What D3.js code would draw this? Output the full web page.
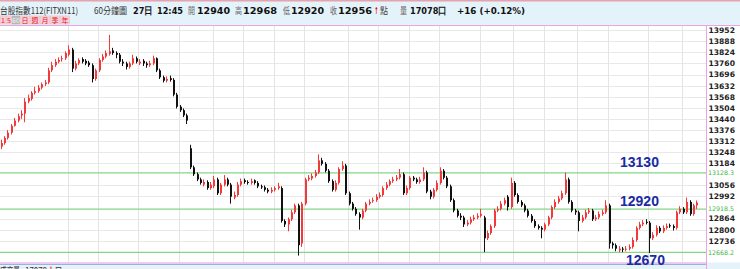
<!DOCTYPE html>
<html>
<head>
<meta charset="utf-8">
<script src="https://d3js.org/d3.v7.min.js"></script>
<style>
  body { margin: 0; background: #e4f2fa; overflow: hidden; }
  svg { display: block; }
</style>
</head>
<body>
<svg id="graph"></svg>
<script>

// Bougies 60 minutes (ouverture, haut, bas, clôture)
const ouvertures = [
  13280,13300,13330,13360,13400,13430,13460,13470,13540,13555,
  13590,13600,13620,13640,13650,13720,13750,13770,13785,13790,
  13810,13840,13730,13760,13785,13775,13765,13750,13670,13720,
  13780,13800,13815,13835,13820,13810,13770,13760,13740,13760,
  13790,13760,13775,13760,13750,13760,13790,13720,13680,13660,
  13675,13665,13580,13510,13490,13460,13270,13160,13120,13090,
  13060,13075,13040,13050,13090,13010,13060,13090,13060,12985,
  13000,13060,13085,13075,13070,13085,13070,13050,13045,13030,
  13020,13030,13040,13040,12850,12830,12860,12900,12940,12720,
  12950,13090,13095,13110,13130,13200,13180,13140,13080,13030,
  13070,13150,13170,13010,12950,12920,12890,12870,12910,12950,
  12965,12970,12990,13000,13040,13060,13080,13090,13100,13120,
  13010,13040,13100,13090,13075,13090,13130,13020,12990,13030,
  13070,13140,13100,13050,12970,12910,12880,12870,12830,12840,
  12860,12870,12880,12870,12750,12780,12820,12910,12920,12950,
  12990,12930,13070,13000,12960,12940,12910,12880,12850,12820,
  12810,12800,12830,12870,12930,12960,12980,13010,13090,12960,
  12910,12900,12850,12870,12900,12910,12860,12870,12890,12900,
  12940,12720,12710,12680,12690,12685,12690,12700,12740,12810,
  12830,12845,12840,12750,12770,12810,12790,12810,12825,12820,
  12810,12900,12920,12900,12960,12890,12940
];
const hauts = [
  13320,13340,13375,13410,13445,13470,13490,13560,13580,13600,
  13625,13635,13650,13665,13735,13770,13785,13795,13805,13830,
  13865,13850,13775,13790,13795,13785,13775,13760,13730,13790,
  13815,13835,13925,13850,13830,13820,13785,13770,13770,13810,
  13800,13785,13785,13770,13775,13805,13795,13730,13690,13685,
  13690,13675,13590,13520,13500,13470,13290,13170,13130,13100,
  13090,13085,13075,13110,13100,13070,13115,13100,13070,13020,
  13075,13095,13095,13085,13095,13090,13080,13060,13055,13040,
  13045,13050,13070,13050,12860,12870,12915,12950,12950,12960,
  13100,13115,13125,13145,13235,13215,13190,13150,13090,13085,
  13160,13195,13180,13020,12960,12930,12900,12920,12960,12975,
  12985,13005,13015,13050,13075,13090,13105,13115,13150,13130,
  13055,13110,13110,13100,13105,13160,13140,13030,13040,13085,
  13160,13150,13110,13060,12980,12920,12895,12880,12855,12875,
  12885,12895,12920,12880,12795,12830,12920,12935,12965,12985,
  13000,13100,13080,13010,12970,12950,12920,12890,12860,12830,
  12820,12840,12880,12940,12975,12995,13025,13130,13100,12970,
  12920,12910,12885,12915,12925,12920,12885,12905,12915,12970,
  12950,12730,12720,12705,12700,12705,12715,12755,12820,12845,
  12855,12860,12850,12785,12825,12820,12825,12835,12835,12830,
  12910,12935,12930,12985,12970,12950,12968
];
const bas = [
  13265,13290,13320,13350,13395,13420,13440,13420,13530,13545,
  13580,13590,13610,13630,13640,13710,13740,13760,13770,13780,
  13800,13710,13720,13750,13760,13750,13740,13650,13660,13710,
  13770,13790,13805,13810,13790,13760,13745,13725,13730,13750,
  13760,13750,13745,13735,13740,13750,13710,13670,13650,13650,
  13655,13570,13500,13480,13450,13410,13150,13110,13080,13060,
  13050,13030,13030,13040,13000,13000,13050,13050,12950,12975,
  12990,13050,13065,13060,13060,13060,13040,13035,13020,13010,
  13010,13020,13030,12840,12815,12790,12850,12890,12650,12700,
  12940,13080,13085,13100,13120,13170,13130,13070,13020,13020,
  13060,13140,13000,12940,12910,12880,12800,12860,12900,12940,
  12955,12960,12980,12990,13030,13050,13070,13080,13090,13000,
  13000,13030,13080,13065,13065,13080,13010,12975,12980,13020,
  13060,13090,13040,12960,12900,12870,12855,12815,12820,12830,
  12850,12860,12870,12670,12740,12770,12810,12900,12910,12940,
  12910,12920,12990,12950,12930,12900,12870,12840,12810,12800,
  12750,12790,12820,12860,12920,12950,12970,13000,12950,12900,
  12885,12790,12840,12860,12890,12850,12850,12860,12880,12890,
  12690,12690,12675,12670,12670,12675,12680,12690,12730,12800,
  12820,12830,12665,12740,12760,12780,12780,12800,12810,12795,
  12800,12890,12890,12890,12880,12880,12920
];
const clotures = [
  13300,13330,13360,13400,13430,13455,13470,13540,13560,13590,
  13600,13620,13640,13650,13720,13750,13770,13780,13790,13820,
  13840,13730,13760,13780,13770,13760,13750,13670,13720,13780,
  13800,13820,13830,13820,13810,13770,13760,13740,13760,13790,
  13770,13770,13760,13750,13760,13790,13720,13680,13660,13670,
  13665,13580,13510,13490,13460,13430,13160,13120,13090,13070,
  13075,13040,13060,13090,13010,13060,13090,13060,12990,13000,
  13060,13080,13075,13070,13080,13070,13050,13045,13030,13020,
  13030,13040,13050,12850,12830,12860,12900,12940,12710,12950,
  13090,13100,13110,13130,13200,13180,13140,13080,13030,13070,
  13150,13170,13010,12950,12920,12890,12870,12910,12950,12960,
  12970,12990,13000,13040,13060,13080,13090,13100,13120,13010,
  13040,13100,13090,13075,13090,13130,13020,12990,13030,13070,
  13140,13100,13050,12970,12910,12880,12870,12830,12840,12860,
  12870,12880,12890,12750,12780,12820,12910,12920,12950,12970,
  12930,13070,13000,12960,12940,12910,12880,12850,12820,12810,
  12800,12830,12870,12930,12960,12980,13010,13090,12960,12910,
  12900,12850,12870,12900,12910,12860,12870,12890,12900,12940,
  12720,12710,12690,12690,12685,12690,12700,12740,12810,12830,
  12840,12840,12750,12770,12810,12790,12810,12820,12820,12810,
  12900,12920,12900,12960,12890,12940,12956
];

// Graduations de l'axe de droite
const graduations = [13952,13888,13824,13760,13696,13632,13568,13504,13440,13376,
  13312,13248,13184,13056,12992,12864,12800,12736];

// Niveaux (lignes vertes) et textes bleus
const niveaux = [13128.3, 12918.5, 12668.2];
const niveauxTexte = ["13130", "12920", "12670"];

// Séparations verticales (indice de bougie)
const separations = [20, 29, 41, 53, 63, 72, 81, 90, 103, 112, 121, 130, 142, 152, 161, 171, 180, 192, 202];

// En-tête
const entete = [
  { t: "台股指數112(FITXN11)", x: 0, w: 78, b: false, c: "#333" },
  { t: "60分鐘圖", x: 94, w: 33, b: false, c: "#333" },
  { t: "27日", x: 133, w: 20, b: true, c: "#111" },
  { t: "12:45", x: 157, w: 26, b: true, c: "#111" },
  { t: "開", x: 188, w: 7, b: false, c: "#666" },
  { t: "12940", x: 197, w: 33, b: true, c: "#111" },
  { t: "高", x: 235, w: 7, b: false, c: "#666" },
  { t: "12968", x: 243, w: 34, b: true, c: "#111" },
  { t: "低", x: 283, w: 7, b: false, c: "#666" },
  { t: "12920", x: 291, w: 33, b: true, c: "#111" },
  { t: "收", x: 330, w: 7, b: false, c: "#666" },
  { t: "12956", x: 338, w: 34, b: true, c: "#111" },
  { t: "↑", x: 374.5, w: 4, b: true, c: "#e00" },
  { t: "點", x: 380, w: 8, b: false, c: "#444" },
  { t: "量", x: 400, w: 7, b: false, c: "#666" },
  { t: "17078口", x: 410, w: 37, b: true, c: "#111" },
  { t: "+16 (+0.12%)", x: 457, w: 68, b: true, c: "#111" }
];
const boutons = ["1", "5", "60", "日", "週", "月", "季", "年"];

const largeur = 740, hauteur = 269;
const plotDroite = 706, plotHaut = 26, plotBas = 262.5;
const N = clotures.length;

const svg = d3.select('#graph')
  .attr("width", largeur)
  .attr("height", hauteur);

// fonds
svg.append("rect").attr("width", largeur).attr("height", hauteur).attr("fill", "#e4f2fa");
svg.append("rect").attr("width", largeur).attr("height", 1.5).attr("fill", "#e6a2ae");
svg.append("rect").attr("x", 0).attr("y", plotHaut).attr("width", largeur).attr("height", plotBas - plotHaut)
  .attr("fill", "#ffffff");

const x = d3.scaleLinear().domain([-0.5, N - 0.5]).range([0, 699]);
const y = d3.scaleLinear().domain([12736, 13952]).range([240.7, 30.2]);

// grille horizontale
svg.append("g")
  .call(d3.axisLeft(y).tickValues(graduations).tickSize(-plotDroite).tickFormat(""))
  .call(g => g.select(".domain").remove())
  .call(g => g.selectAll("line").attr("stroke", "#e8e8e8").attr("shape-rendering", "crispEdges"));

// grille verticale
svg.append("g").selectAll("line")
  .data(separations)
  .enter().append("line")
  .attr("x1", d => Math.round(x(d - 0.5)) + 0.5)
  .attr("x2", d => Math.round(x(d - 0.5)) + 0.5)
  .attr("y1", plotHaut)
  .attr("y2", plotBas)
  .attr("stroke", "#e4e4e4");

// lignes vertes
svg.append("g").selectAll("line")
  .data(niveaux)
  .enter().append("line")
  .attr("x1", 0)
  .attr("x2", plotDroite)
  .attr("y1", d => y(d))
  .attr("y2", d => y(d))
  .attr("stroke", "#86d686")
  .attr("stroke-width", 1.3);

// bougies
const bougies = svg.append("g");
d3.range(N).forEach(i => {
  const o = ouvertures[i], c = clotures[i];
  const couleur = c >= o ? "#f23a3a" : "#111";
  const cx = Math.round(x(i));
  bougies.append("line")
    .attr("x1", cx - 0.5).attr("x2", cx - 0.5)
    .attr("y1", y(hauts[i])).attr("y2", y(bas[i]))
    .attr("stroke", couleur).attr("stroke-width", 1);
  const y1 = y(Math.max(o, c)), y2 = y(Math.min(o, c));
  bougies.append("rect")
    .attr("x", cx - 1)
    .attr("y", y1)
    .attr("width", 2)
    .attr("height", Math.max(1, y2 - y1))
    .attr("fill", couleur);
});

// cadre
svg.append("line").attr("x1", 0).attr("x2", largeur).attr("y1", plotHaut - 0.5).attr("y2", plotHaut - 0.5)
  .attr("stroke", "#e8a4e4");
svg.append("line").attr("x1", plotDroite + 0.5).attr("x2", plotDroite + 0.5).attr("y1", plotHaut).attr("y2", hauteur)
  .attr("stroke", "#e8a4e4");
svg.append("line").attr("x1", 0).attr("x2", plotDroite).attr("y1", plotBas + 0.5).attr("y2", plotBas + 0.5)
  .attr("stroke", "#e8a4e4").attr("stroke-width", 1.2);
svg.append("line").attr("x1", 0).attr("x2", plotDroite).attr("y1", plotBas + 2).attr("y2", plotBas + 2)
  .attr("stroke", "#a6acdf").attr("stroke-width", 1.2);

// axe de droite
svg.append("g")
  .attr("transform", `translate(${plotDroite + 1},0)`)
  .call(d3.axisRight(y).tickValues(graduations).tickSize(0).tickPadding(1.5).tickFormat(d3.format("d")))
  .call(g => g.select(".domain").remove())
  .call(g => g.selectAll("text")
    .attr("fill", "#222")
    .attr("font-family", "DejaVu Sans, Verdana, sans-serif")
    .attr("font-weight", "bold")
    .attr("font-size", 7.6));

// valeurs des niveaux en vert
svg.append("g").selectAll("text")
  .data(niveaux)
  .enter().append("text")
  .attr("x", plotDroite + 2)
  .attr("y", d => y(d))
  .attr("dy", "0.35em")
  .attr("fill", "#3cb83c")
  .attr("font-family", "DejaVu Sans, Verdana, sans-serif")
  .attr("font-size", 6.3)
  .text(d => d.toFixed(1));

// en-tête
svg.append("g").selectAll("text")
  .data(entete)
  .enter().append("text")
  .attr("x", d => d.x)
  .attr("y", 14)
  .attr("fill", d => d.c)
  .attr("font-family", d => d.b ? "DejaVu Sans, sans-serif" : "Noto Sans CJK TC, sans-serif")
  .attr("font-weight", d => d.b ? "bold" : "normal")
  .attr("font-size", d => d.b ? 9.5 : 9)
  .attr("textLength", d => d.w)
  .attr("lengthAdjust", "spacingAndGlyphs")
  .text(d => d.t);

// boutons de période
const largeursBoutons = [6, 6, 8, 10, 10, 10, 10, 10];
let bx = 0;
boutons.forEach((b, i) => {
  const w = largeursBoutons[i];
  const actif = b === "60";
  svg.append("rect")
    .attr("x", bx + 0.5).attr("y", 16)
    .attr("width", w - 1).attr("height", 8)
    .attr("fill", actif ? "#bdbdbd" : "#f6d2da")
    .attr("stroke", actif ? "#a8a8a8" : "#eebbc6")
    .attr("stroke-width", 0.6);
  svg.append("text")
    .attr("x", bx + w / 2).attr("y", 22.6)
    .attr("text-anchor", "middle")
    .attr("fill", actif ? "#eee" : "#e02020")
    .attr("font-family", "Noto Sans CJK TC, sans-serif")
    .attr("font-size", 7)
    .text(b);
  bx += w;
});

// bas de page (panneau du volume, coupé comme sur l'original)
const basTexte = [
  { t: "成交量", x: 0, w: 20, c: "#333" },
  { t: "17078", x: 25, w: 22, c: "#333" },
  { t: "↑", x: 49, w: 4, c: "#e00" },
  { t: "口", x: 55, w: 7, c: "#333" }
];
svg.append("g").selectAll("text")
  .data(basTexte)
  .enter().append("text")
  .attr("x", d => d.x).attr("y", 274)
  .attr("fill", d => d.c)
  .attr("font-family", "Noto Sans CJK TC, sans-serif")
  .attr("font-size", 9)
  .attr("textLength", d => d.w)
  .attr("lengthAdjust", "spacingAndGlyphs")
  .text(d => d.t);

// textes bleus
const decalages = [[620, -6], [620, -3], [626, 13]];
svg.append("g").selectAll("text")
  .data(niveauxTexte)
  .enter().append("text")
  .attr("x", (d, i) => decalages[i][0])
  .attr("y", (d, i) => y(niveaux[i]) + decalages[i][1])
  .attr("fill", "#1b2aa3")
  .attr("font-family", "Liberation Sans, Arial, sans-serif")
  .attr("font-weight", "bold")
  .attr("font-size", 14)
  .text(d => d);

</script>
</body>
</html>
